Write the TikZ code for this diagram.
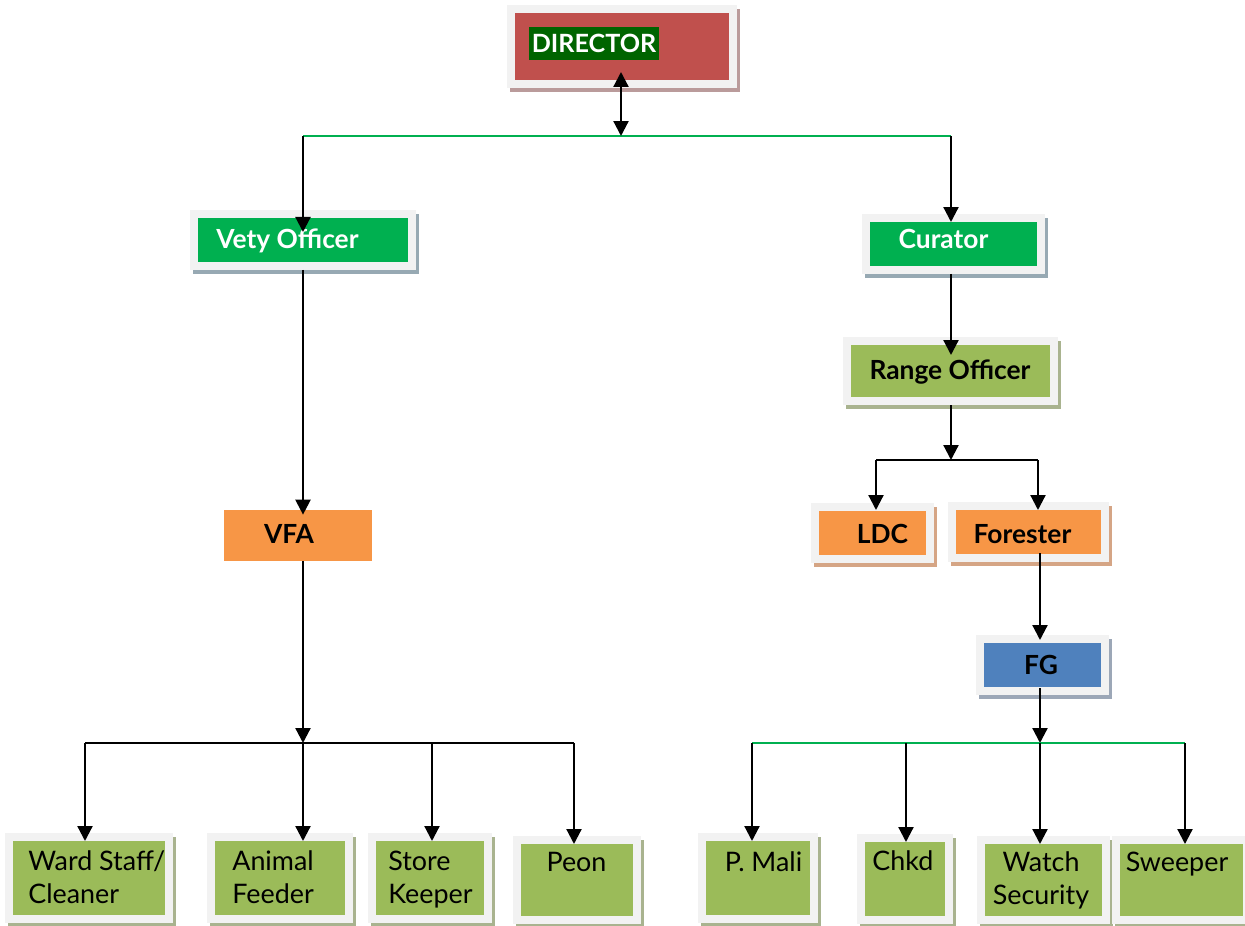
\documentclass[tikz,border=0pt]{standalone}
\usepackage{fontspec}
\setmainfont{Lato}
\usetikzlibrary{arrows.meta}
\definecolor{frameg}{HTML}{F2F2F2}
\definecolor{dirred}{HTML}{C0504D}
\definecolor{hlgreen}{HTML}{006400}
\definecolor{kgreen}{HTML}{00B050}
\definecolor{olive}{HTML}{9BBB59}
\definecolor{orng}{HTML}{F79646}
\definecolor{blu}{HTML}{4F81BD}
\definecolor{shdir}{HTML}{BA9B9B}
\definecolor{shgreen}{HTML}{97A9B3}
\definecolor{sholive}{HTML}{A9B38F}
\definecolor{shorng}{HTML}{D5A585}
\definecolor{shblue}{HTML}{9CA7B7}
\newcommand\orgbox[7]{%
  \fill[#7] ({#2+3},{#3+4}) rectangle ({#4+3},{#5+4});
  \node[draw=frameg, line width=0.16cm, fill=#6, inner sep=0pt, outer sep=0.08cm,
        minimum width={(#4-#2-8)*0.02cm}, minimum height={(#5-#3-8)*0.02cm}]
        (#1) at ({(#2+#4)/2},{(#3+#5)/2}) {};}
\tikzset{
  arr/.style={line width=0.045cm, -{Triangle[width=0.3cm,length=0.3cm]}},
  dbl/.style={line width=0.045cm, {Triangle[width=0.3cm,length=0.3cm]}-{Triangle[width=0.3cm,length=0.3cm]}},
  gline/.style={line width=0.04cm, draw=kgreen},
  bline/.style={line width=0.04cm, draw=black},
  lbl/.style={font=\fontsize{15.3}{18.7}\selectfont, inner sep=0pt, anchor=base},
  blbl/.style={lbl, font=\bfseries\fontsize{15}{18.7}\selectfont},
}
\begin{document}
\begin{tikzpicture}[x=0.02cm,y=-0.02cm]
\useasboundingbox (0,0) rectangle (1245,926);
% boxes
\orgbox{director}{507}{5}{737}{88}{dirred}{shdir}
\orgbox{vety}{190}{210}{416}{270}{kgreen}{shgreen}
\orgbox{curator}{862}{214}{1045}{274}{kgreen}{shgreen}
\orgbox{range}{843}{337}{1058}{405}{olive}{sholive}
\node[fill=orng, inner sep=0pt, minimum width=2.96cm, minimum height=1.02cm] (vfa) at (298,535.5) {};
\orgbox{ldc}{811}{503}{934}{563}{orng}{shorng}
\orgbox{forester}{948}{502}{1109}{562}{orng}{shorng}
\orgbox{fg}{976}{635}{1109}{695}{blu}{shblue}
\orgbox{ward}{5}{833}{173}{923}{olive}{sholive}
\orgbox{animal}{207}{833}{353}{923}{olive}{sholive}
\orgbox{store}{368}{833}{492}{923}{olive}{sholive}
\orgbox{peon}{513}{836}{641}{924}{olive}{sholive}
\orgbox{pmali}{698}{833}{818}{923}{olive}{sholive}
\orgbox{chkd}{857}{834}{953}{924}{olive}{sholive}
\orgbox{watch}{977}{836}{1110}{924}{olive}{sholive}
\orgbox{sweeper}{1112}{836}{1251}{924}{olive}{sholive}
% texts
\node[fill=hlgreen, text=white, font=\bfseries\fontsize{14.3}{16}\selectfont, inner xsep=0.05cm, minimum height=0.66cm] (dirt) at (594,43.5) {DIRECTOR};
\node[blbl, text=white] (vetyt) at (287.5,248) {Vety Officer};
\node[blbl, text=white] (curt) at (943.5,248) {Curator};
\node[blbl] (rngt) at (950,379) {Range Officer};
\node[blbl] (vfat) at (289,543) {VFA};
\node[blbl] (ldct) at (882.5,543) {LDC};
\node[blbl] (fort) at (1022.5,543) {Forester};
\node[blbl] (fgt) at (1041,674) {FG};
\node[lbl, anchor=base west, align=left] (wardt) at (28,903) {Ward Staff/\\Cleaner};
\node[lbl, anchor=base west, align=left] (animalt) at (232,903) {Animal\\Feeder};
\node[lbl, anchor=base west, align=left] (storet) at (388,903) {Store\\Keeper};
\node[lbl] (peont) at (576.5,871) {Peon};
\node[lbl] (pmalit) at (763.5,871) {P. Mali};
\node[lbl, anchor=base west] (chkdt) at (872,870) {Chkd};
\node[lbl, align=center] (watcht) at (1041,904) {Watch\\Security};
\node[lbl] (sweepert) at (1177,871) {Sweeper};
% top bus
\coordinate (t0) at (621,136);
\coordinate (tl) at (303,136);
\coordinate (tr) at (951,136);
\draw[gline] (tl) -- (tr);
\draw[dbl] (t0) -- ([yshift=0.32cm]t0 |- director.south);
\draw[arr] (tl) -- ([yshift=-0.44cm]tl |- vety.north);
\draw[arr] (tr) -- ([yshift=-0.16cm]tr |- curator.north);
% left branch
\coordinate (lb) at (303,743);
\coordinate (lb1) at (85,743);
\coordinate (lb3) at (432,743);
\coordinate (lb4) at (574,743);
\draw[arr] (lb |- vety.south) -- ([yshift=-0.1cm]lb |- vfa.north);
\draw[arr] (lb |- vfa.south) -- (lb);
\draw[bline] (lb1) -- (lb4);
\draw[arr] (lb1) -- ([yshift=-0.16cm]lb1 |- ward.north);
\draw[arr] (lb) -- ([yshift=-0.16cm]lb |- animal.north);
\draw[arr] (lb3) -- ([yshift=-0.16cm]lb3 |- store.north);
\draw[arr] (lb4) -- ([yshift=-0.16cm]lb4 |- peon.north);
% right branch
\coordinate (rb) at (951,460);
\coordinate (rb1) at (876,460);
\coordinate (rb2) at (1038,460);
\draw[arr] (rb |- curator.south) -- ([yshift=-0.36cm]rb |- range.north);
\draw[arr] (rb |- range.south) -- (rb);
\draw[bline] (rb1) -- (rb2);
\draw[arr] (rb1) -- ([yshift=-0.14cm]rb1 |- ldc.north);
\draw[arr] (rb2) -- ([yshift=-0.16cm]rb2 |- forester.north);
\coordinate (fb) at (1040,743);
\coordinate (fb1) at (752,743);
\coordinate (fb2) at (906,743);
\coordinate (fb4) at (1185,743);
\draw[arr] ([yshift=0.18cm]fb |- forester.south) -- ([yshift=-0.1cm]fb |- fg.north);
\draw[arr] ([yshift=0.14cm]fb |- fg.south) -- (fb);
\draw[gline] (fb1) -- (fb4);
\draw[arr] (fb1) -- ([yshift=-0.16cm]fb1 |- pmali.north);
\draw[arr] (fb2) -- ([yshift=-0.16cm]fb2 |- chkd.north);
\draw[arr] (fb) -- ([yshift=-0.16cm]fb |- watch.north);
\draw[arr] (fb4) -- ([yshift=-0.16cm]fb4 |- sweeper.north);
\end{tikzpicture}
\end{document}
